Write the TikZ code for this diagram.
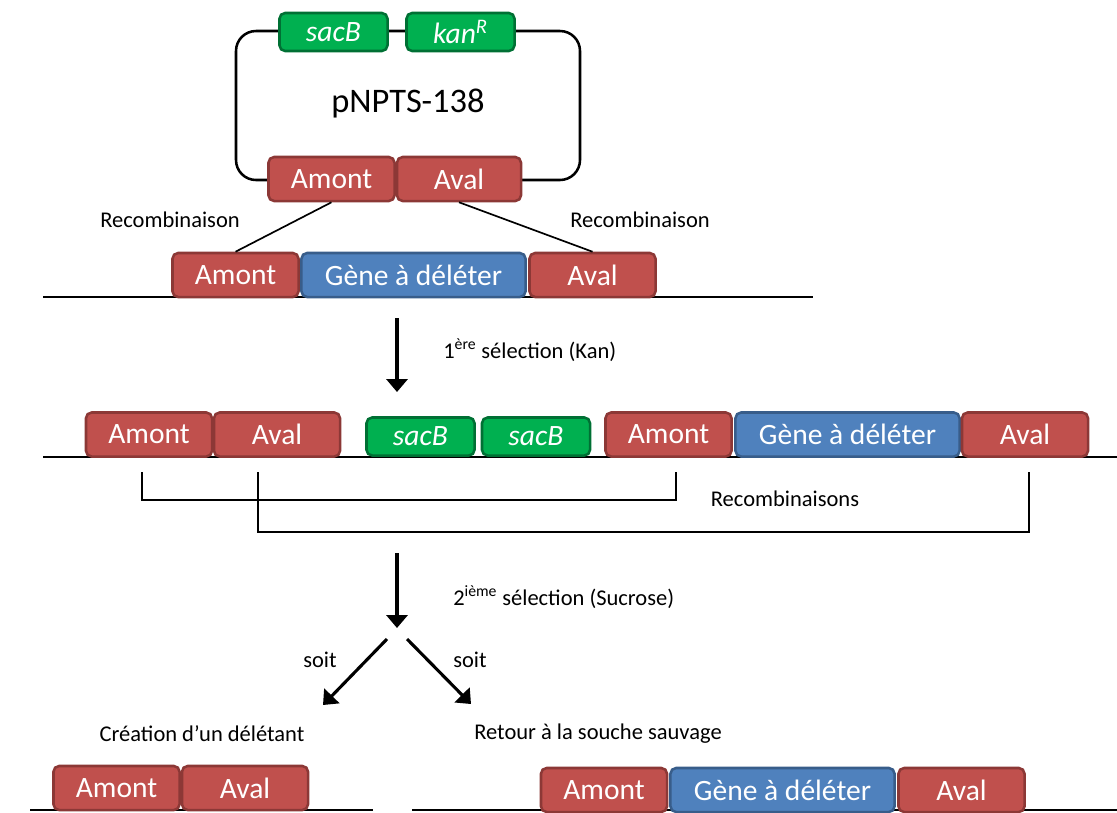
\documentclass[tikz,border=0pt]{standalone}
\usepackage{fontspec}
\setmainfont{Carlito}
\usetikzlibrary{arrows.meta}
\definecolor{boxred}{RGB}{192,80,77}
\definecolor{boxredline}{RGB}{140,56,54}
\definecolor{boxblue}{RGB}{79,129,189}
\definecolor{boxblueline}{RGB}{56,93,138}
\definecolor{boxgreen}{RGB}{0,176,80}
\definecolor{boxgreenline}{RGB}{0,112,52}
\newcommand{\bx}{\fontsize{21}{25}\selectfont}
\newcommand{\lb}{\fontsize{16}{19}\selectfont}

\begin{document}
\begin{tikzpicture}[x=0.025cm,y=-0.025cm,
   genebox/.style={rounded corners=4pt,line width=1.8pt,text=white,font=\bx,
      inner sep=0pt,minimum height=1.1cm},
   amontbox/.style={genebox,fill=boxred,draw=boxredline,minimum width=3.15cm},
   geneblue/.style={genebox,fill=boxblue,draw=boxblueline,minimum width=5.6cm},
   sacbox/.style={genebox,fill=boxgreen,draw=boxgreenline,minimum width=2.7cm,
      minimum height=0.95cm},
   dna/.style={line width=2pt},
   bigarrow/.style={line width=2.2pt,-{Triangle[length=0.32cm,width=0.52cm]}},
   lbl/.style={font=\lb,inner sep=0pt}]
   \useasboundingbox (0,0) rectangle (1117,812);

   % plasmide
   \draw[line width=1.8pt,rounded corners=0.5cm] (236,31) rectangle (580,180);
   \node[sacbox] (sacP) at (333.5,32) {\itshape sacB};
   \node[sacbox] (kanP) at (460.5,32) {\itshape kan\textsuperscript{R}};
   \node[font=\fontsize{24.5}{28}\selectfont] (pnpts) at (408,103) {pNPTS-138};
   \node[amontbox] (amP) at (331.5,179) {Amont};
   \node[amontbox,minimum width=3.1cm] (avP) at (459,179) {Aval};

   % chromosome
   \draw[dna] (43,297) -- (813,297);
   \node[amontbox] (am2) at (235.5,275) {Amont};
   \node[geneblue] (ge2) at (413.5,275) {Gène à déléter};
   \node[amontbox] (av2) at (592.5,275) {Aval};
   \draw[line width=1.2pt] (amP.south) -- (am2.north);
   \draw[line width=1.2pt] (avP.south) -- (av2.north);
   \node[lbl] (rec1) at (170,220) {Recombinaison};
   \node[lbl] (rec2) at (640,220) {Recombinaison};

   % 1ere selection
   \coordinate (s1a) at (397,318);
   \coordinate (s1b) at (397,392);
   \draw[bigarrow] (s1a) -- (s1b);
   \node[lbl,anchor=west] (sel1) at (443,350) {1\textsuperscript{ère} sélection (Kan)};

   % integration
   \draw[dna] (43,457) -- (1117,457);
   \node[amontbox] (am3) at (149,434.5) {Amont};
   \node[amontbox] (av3) at (277,434.5) {Aval};
   \node[sacbox] (sac3) at (420.5,436.5) {\itshape sacB};
   \node[sacbox] (sac4) at (536,436.5) {\itshape sacB};
   \node[amontbox] (am4) at (668.5,434.5) {Amont};
   \node[geneblue] (ge4) at (847.5,434.5) {Gène à déléter};
   \node[amontbox] (av4) at (1025,434.5) {Aval};
   \draw[line width=0.8pt] (142,472) -- (142,500) -- (676,500) -- (676,472);
   \draw[line width=0.8pt] (258,472) -- (258,532) -- (1029,532) -- (1029,472);
   \node[lbl] (recs) at (785,499) {Recombinaisons};

   % 2eme selection
   \coordinate (s2a) at (397,553);
   \coordinate (s2b) at (397,628);
   \draw[bigarrow] (s2a) -- (s2b);
   \node[lbl,anchor=west] (sel2) at (453,597) {2\textsuperscript{ième} sélection (Sucrose)};
   \coordinate (l1) at (387,639);
   \coordinate (l2) at (323,705);
   \coordinate (r1) at (407,639);
   \coordinate (r2) at (471,704);
   \draw[bigarrow] (l1) -- (l2);
   \draw[bigarrow] (r1) -- (r2);
   \node[lbl] (soit1) at (320,660) {soit};
   \node[lbl] (soit2) at (470,660) {soit};
   \node[lbl] (del) at (202,734) {Création d’un délétant};
   \node[lbl] (wt) at (598,734) {Retour à la souche sauvage};

   % delete
   \draw[dna] (30,810) -- (373,810);
   \node[amontbox] (am5) at (116.5,788) {Amont};
   \node[amontbox] (av5) at (245,788) {Aval};

   % sauvage
   \draw[dna] (412,810) -- (1117,810);
   \node[amontbox] (am6) at (604,790) {Amont};
   \node[geneblue] (ge6) at (782.5,790) {Gène à déléter};
   \node[amontbox] (av6) at (961.5,790) {Aval};
  \end{tikzpicture}
\end{document}
